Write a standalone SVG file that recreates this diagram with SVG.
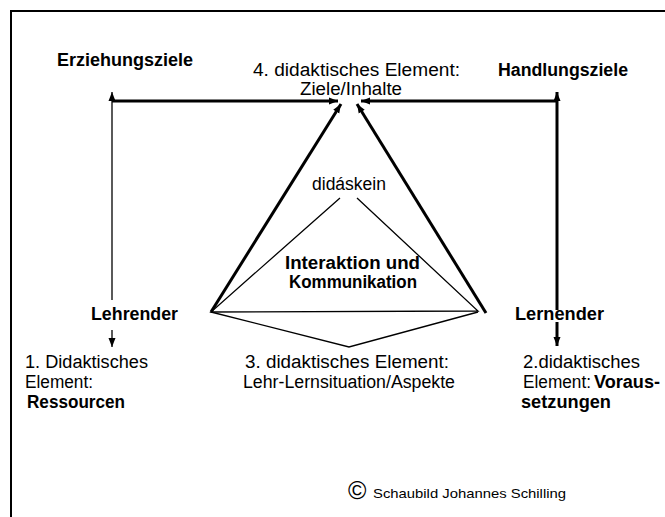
<svg xmlns="http://www.w3.org/2000/svg" width="665" height="517" viewBox="0 0 665 517">
<style>
.t{font-family:"Liberation Sans",Arial,sans-serif;font-size:18px;fill:#000}
.b{font-weight:bold}
.thin{stroke:#000;stroke-width:1.3;fill:none}
.thick{stroke:#000;stroke-width:3;fill:none}
</style>
<defs>
<marker id="ah" markerUnits="userSpaceOnUse" markerWidth="10" markerHeight="8" refX="9" refY="4" orient="auto">
<path d="M0,0.5 L9,4 L0,7.5 z" fill="#000"/>
</marker>
</defs>
<rect width="665" height="517" fill="#fff"/>
<path d="M11,517 V11 H665" fill="none" stroke="#000" stroke-width="2"/>
<g id="connectors">
<line class="thin" x1="112" y1="300" x2="112" y2="92" marker-end="url(#ah)"/>
<line class="thick" x1="112" y1="101" x2="338" y2="101" marker-end="url(#ah)"/>
<line class="thick" x1="557" y1="310" x2="557" y2="92" marker-end="url(#ah)"/>
<line class="thick" x1="557" y1="101" x2="361" y2="101" marker-end="url(#ah)"/>
<line class="thick" x1="211" y1="312" x2="341" y2="104" marker-end="url(#ah)"/>
<line class="thick" x1="486" y1="313" x2="357" y2="104" marker-end="url(#ah)"/>
<line class="thin" x1="112" y1="330" x2="112" y2="347" marker-end="url(#ah)"/>
<line class="thick" x1="557" y1="322" x2="557" y2="346" marker-end="url(#ah)"/>
<path class="thin" d="M340,198 L211,312 L478,311 L357,198"/>
<path class="thin" d="M211,312 L349,347 L478,312"/>
</g>
<g id="erziehungsziele"><text class="t b" x="57" y="66" textLength="136" lengthAdjust="spacingAndGlyphs">Erziehungsziele</text></g>
<g id="ziele"><text class="t" x="253" y="76" textLength="207" lengthAdjust="spacingAndGlyphs">4. didaktisches Element:</text>
<text class="t" x="300" y="95" textLength="102" lengthAdjust="spacingAndGlyphs">Ziele/Inhalte</text></g>
<g id="handlungsziele"><text class="t b" x="498" y="76" textLength="130" lengthAdjust="spacingAndGlyphs">Handlungsziele</text></g>
<g id="didaskein"><text class="t" x="312" y="190" textLength="74" lengthAdjust="spacingAndGlyphs">didáskein</text></g>
<g id="interaktion"><text class="t b" x="285" y="269" textLength="135" lengthAdjust="spacingAndGlyphs">Interaktion und</text>
<text class="t b" x="289" y="288" textLength="128" lengthAdjust="spacingAndGlyphs">Kommunikation</text></g>
<g id="lehrender"><text class="t b" x="91" y="320" textLength="87" lengthAdjust="spacingAndGlyphs">Lehrender</text></g>
<g id="lernender"><text class="t b" x="515" y="320" textLength="89" lengthAdjust="spacingAndGlyphs">Lernender</text></g>
<g id="ressourcen"><text class="t" x="25" y="368" textLength="123" lengthAdjust="spacingAndGlyphs">1. Didaktisches</text>
<text class="t" x="25" y="388" textLength="68" lengthAdjust="spacingAndGlyphs">Element:</text>
<text class="t b" x="27" y="408" textLength="98" lengthAdjust="spacingAndGlyphs">Ressourcen</text></g>
<g id="situation"><text class="t" x="245" y="368" textLength="204" lengthAdjust="spacingAndGlyphs">3. didaktisches Element:</text>
<text class="t" x="243" y="388" textLength="212" lengthAdjust="spacingAndGlyphs">Lehr-Lernsituation/Aspekte</text></g>
<g id="voraussetzungen"><text class="t" x="523" y="368" textLength="117" lengthAdjust="spacingAndGlyphs">2.didaktisches</text>
<text class="t" x="523" y="388" textLength="68" lengthAdjust="spacingAndGlyphs">Element:</text>
<text class="t b" x="594" y="388" textLength="66" lengthAdjust="spacingAndGlyphs">Voraus-</text>
<text class="t b" x="521" y="408" textLength="90" lengthAdjust="spacingAndGlyphs">setzungen</text></g>
<g id="copyright"><text class="t" x="348" y="499" style="font-size:25px">©</text>
<text class="t" x="373" y="498" style="font-size:13px" textLength="193" lengthAdjust="spacingAndGlyphs">Schaubild Johannes Schilling</text></g>
</svg>
